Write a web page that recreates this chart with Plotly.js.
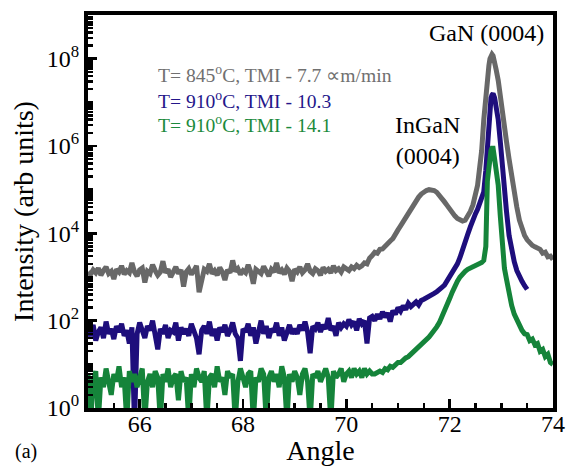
<!DOCTYPE html>
<html>
<head>
<meta charset="utf-8">
<script src="https://cdn.plot.ly/plotly-3.0.1.min.js"></script>
<style>html,body{margin:0;padding:0;background:#fff;}#chart{width:566px;height:466px;}</style>
</head>
<body>
<div id="chart"></div>
<script>
// Angle grid (degrees)
const angle = [
  65.00,65.05,65.10,65.15,65.20,65.25,65.30,65.35,65.40,65.45,
  65.50,65.55,65.60,65.65,65.70,65.75,65.80,65.85,65.90,65.95,
  66.00,66.05,66.10,66.15,66.20,66.25,66.30,66.35,66.40,66.45,
  66.50,66.55,66.60,66.65,66.70,66.75,66.80,66.85,66.90,66.95,
  67.00,67.05,67.10,67.15,67.20,67.25,67.30,67.35,67.40,67.45,
  67.50,67.55,67.60,67.65,67.70,67.75,67.80,67.85,67.90,67.95,
  68.00,68.05,68.10,68.15,68.20,68.25,68.30,68.35,68.40,68.45,
  68.50,68.55,68.60,68.65,68.70,68.75,68.80,68.85,68.90,68.95,
  69.00,69.05,69.10,69.15,69.20,69.25,69.30,69.35,69.40,69.45,
  69.50,69.55,69.60,69.65,69.70,69.75,69.80,69.85,69.90,69.95,
  70.00,70.05,70.10,70.15,70.20,70.25,70.30,70.35,70.40,70.45,
  70.50,70.55,70.60,70.65,70.70,70.75,70.80,70.85,70.90,70.95,
  71.00,71.05,71.10,71.15,71.20,71.25,71.30,71.35,71.40,71.45,
  71.50,71.55,71.60,71.65,71.70,71.75,71.80,71.85,71.90,71.95,
  72.00,72.05,72.10,72.15,72.20,72.25,72.30,72.35,72.40,72.45,
  72.50,
  72.54,72.58,72.62,72.66,72.70,72.73,72.76,72.78,72.80,72.82,
  72.84,72.87,72.90,72.94,72.98,73.02,73.06,73.10,73.15,73.20,
  73.25,73.30,73.35,73.40,73.45,73.50,73.55,73.60,73.65,73.70,
  73.75,73.80,73.85,73.90,73.95,74.00
];

// T = 845 C, TMI 7.7 (grey)
const int845_77 = [
  1300,1150,1450,1250,1600,1100,1400,1700,1200,1350,
  900,1500,1300,1800,1150,1400,1250,2100,1300,1050,
  1450,1600,750,1350,1200,1900,1400,1100,1300,2300,
  1250,1500,1000,1350,1700,1200,1450,600,1300,1550,
  1150,1400,1800,450,950,1500,1350,2000,1200,1400,
  1100,1650,1300,850,1450,1250,2400,1350,1550,1150,
  1400,1250,1900,1300,700,1500,1350,1200,1750,1400,
  1050,1500,1300,2100,1250,1450,1150,1600,1350,800,
  1500,1300,1700,1250,1450,2000,1350,1200,1550,1400,
  1100,1650,1350,1500,1250,1800,1400,1550,1300,1700,
  1500,1400,1700,1550,1850,1650,
  1800,2100,2000,2700,3100,3700,3500,4300,4400,5200,
  5600,6700,7600,10000,12000,14800,18600,23400,29500,37200,
  45700,56200,67600,79400,89100,95500,100000,100000,95500,87100,
  75900,63100,52500,43700,35500,29500,25100,21900,20000,19100,
  20000,24000,31600,44700,70800,
  126000,316000,794000,3980000,15800000,39800000,70800000,100000000,117000000,126000000,
  117000000,89000000,56000000,31600000,12600000,6300000,2500000,1260000,500000,200000,
  79400,39800,20000,12600,8900,7100,6000,5300,4900,4500,
  4300,3500,3700,2900,3000,2500
];

// T = 910 C, TMI 10.3 (blue)
const int910_103 = [
  60,45,80,35,55,70,40,95,50,65,
  38,75,55,85,45,60,30,70,0.4,50,
  90,55,40,75,60,100,45,22,65,50,
  80,40,60,55,90,35,70,50,65,45,
  85,55,40,17,60,75,50,95,45,65,
  35,70,55,80,45,60,90,50,40,12,
  65,55,85,45,70,30,60,100,50,75,
  40,65,55,90,45,70,35,60,80,50,
  65,50,80,60,95,55,18,75,65,90,
  55,80,65,115,60,75,45,90,70,85,
  75,105,80,95,60,110,85,100,30,115,
  125,100,140,110,160,120,150,95,170,140,
  200,165,220,180,250,210,240,270,230,290,
  310,330,350,400,420,460,500,580,650,800,
  1000,1300,1600,2000,2800,4470,6600,9500,14100,22400,
  28200,
  35500,47900,63100,89100,280000,1260000,5000000,8900000,12600000,14800000,
  15800000,12600000,7900000,4000000,1260000,320000,100000,31600,8900,4200,
  2240,1410,1000,800,630,520
];

// T = 910 C, TMI 14.1 (green)
const int910_141 = [
  6,0.5,4,7,0.5,5,3,8,4,2,
  6,4,9,3,5,0.5,7,4,6,3,
  5,8,0.5,4,6,3,7,5,0.5,6,
  4,8,3,5,6,1.5,7,4,5,0.5,
  6,3,8,5,4,7,0.5,5,6,3,
  9,4,5,2,7,5,6,0.5,4,8,
  5,3,6,7,0.5,5,4,8,6,0.5,
  5,7,4,6,3,9,5,0.5,6,4,
  7,5,2,6,8,4,0.5,6,5,7,
  4,6,8,5,0.5,7,5,6,8,4,
  6,7,5,8,6,7,5,8,6,7,
  6,
  6,6.5,7,6.5,8,7.5,9,8.5,10,
  11,11,13,14,15,17,19,22,24,28,
  32,36,42,50,58,72,90,120,160,220,
  320,450,630,800,1000,1200,1350,1500,1600,1700,
  1780,
  1900,2000,2140,2400,5000,158000,400000,630000,790000,890000,
  890000,500000,316000,126000,25000,4000,1580,890,400,224,
  141,100,76,60,50,48,35,38,28,30,
  20,22,15,17,11,10
];

const seriesNames = ['T= 845\u00b0C, TMI - 7.7', 'T= 910\u00b0C, TMI - 10.3', 'T= 910\u00b0C, TMI - 14.1'];
const seriesColors = ['#686868', '#1e0e7c', '#15843a'];
const seriesData = [int845_77, int910_103, int910_141];

const legendLabels = [
  'T= 845<sup>o</sup>C, TMI - 7.7 \u221dm/min',
  'T= 910<sup>o</sup>C, TMI - 10.3',
  'T= 910<sup>o</sup>C, TMI - 14.1'
];
const legendTextColors = ['#707070', '#24168a', '#1b8a3c'];

const xTicks = [66, 68, 70, 72, 74];
const yTickVals = [1, 100, 1e4, 1e6, 1e8];
const yTickText = ['10<sup>0</sup>', '10<sup>2</sup>', '10<sup>4</sup>', '10<sup>6</sup>', '10<sup>8</sup>'];

// minor tick positions on the log axis (1..9 x each decade, except labelled decades)
const yMinorTicks = [];
for (let e = 0; e < 9; e++) {
  for (let m = 1; m <= 9; m++) {
    if (m === 1 && e % 2 === 0) continue;
    yMinorTicks.push(m * Math.pow(10, e));
  }
}
yMinorTicks.push(1e9);

const serif = 'Liberation Serif, Times New Roman, serif';

const traces = seriesData.map((ys, i) => ({
  x: angle.slice(0, ys.length),
  y: ys,
  type: 'scatter',
  mode: 'lines',
  name: seriesNames[i],
  line: {color: seriesColors[i], width: 5},
  hoverinfo: 'skip'
}));

const annotations = [
  {text: 'GaN (0004)', xref: 'paper', yref: 'paper', x: 0.856, y: 0.953, showarrow: false,
   xanchor: 'center', yanchor: 'middle', font: {family: serif, size: 24, color: '#000'}},
  {text: 'InGaN<br>(0004)', xref: 'paper', yref: 'paper', x: 0.731, y: 0.681, showarrow: false,
   xanchor: 'center', yanchor: 'middle', font: {family: serif, size: 24, color: '#000'}},
  {text: '(a)', xref: 'paper', yref: 'paper', x: -0.133, y: -0.110, showarrow: false,
   xanchor: 'center', yanchor: 'middle', font: {family: serif, size: 20, color: '#000'}}
];
const legendY = [0.849, 0.783, 0.722];
legendLabels.forEach((t, i) => {
  annotations.push({text: t, xref: 'paper', yref: 'paper', x: 0.146, y: legendY[i], showarrow: false,
    xanchor: 'left', yanchor: 'middle', font: {family: serif, size: 19.6, color: legendTextColors[i]}});
});

const layout = {
  width: 566, height: 466,
  margin: {l: 88, r: 13, t: 15, b: 58, pad: 0},
  paper_bgcolor: '#fff', plot_bgcolor: '#fff',
  showlegend: false,
  font: {family: serif, color: '#000'},
  xaxis: {
    range: [65, 74], showline: true, linewidth: 4, linecolor: '#000', mirror: true,
    ticks: 'inside', ticklen: 9, tickwidth: 2.5, tickcolor: '#000',
    tickmode: 'array', tickvals: xTicks, ticktext: xTicks.map(String),
    ticklabelstandoff: -9,
    minor: {ticks: 'inside', tick0: 65, dtick: 0.5, ticklen: 5, tickwidth: 2.5, tickcolor: '#000', showgrid: false},
    showgrid: false, zeroline: false,
    tickfont: {family: serif, size: 24, color: '#000'},
    title: {text: 'Angle', font: {family: serif, size: 28, color: '#000'}, standoff: 10}
  },
  yaxis: {
    type: 'log', range: [0, 9], showline: true, linewidth: 4, linecolor: '#000', mirror: true,
    ticks: 'inside', ticklen: 9, tickwidth: 2.5, tickcolor: '#000',
    tickmode: 'array', tickvals: yTickVals, ticktext: yTickText,
    minor: {ticks: 'inside', tickmode: 'array', tickvals: yMinorTicks, ticklen: 5, tickwidth: 2.5, tickcolor: '#000', showgrid: false},
    showgrid: false, zeroline: false,
    tickfont: {family: serif, size: 24, color: '#000'},
    title: {text: 'Intensity (arb units)', font: {family: serif, size: 28, color: '#000'}, standoff: 6}
  },
  annotations: annotations
};

Plotly.newPlot('chart', traces, layout, {staticPlot: true, displayModeBar: false});
</script>
</body>
</html>
